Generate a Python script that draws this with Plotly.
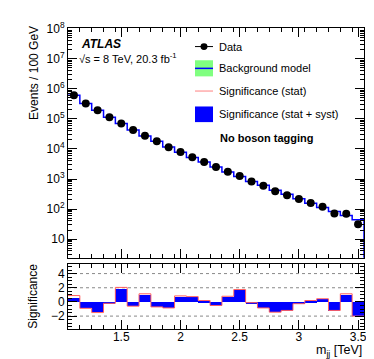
import plotly.graph_objects as go

# bin centres (TeV), 100 GeV bins
mjj = [1.1, 1.2, 1.3, 1.4, 1.5, 1.6, 1.7, 1.8, 1.9, 2.0,
       2.1, 2.2, 2.3, 2.4, 2.5, 2.6, 2.7, 2.8, 2.9, 3.0,
       3.1, 3.2, 3.3, 3.4, 3.5]
data = [620000, 330000, 194000, 115000, 71000, 43000, 27500, 18000, 11500, 7900,
        5300, 3700, 2500, 1750, 1270, 830, 600, 392, 290, 215,
        159, 118, 71, 70, 31]
bkg = [619500, 330500, 194600, 115100, 70500, 43100, 27330, 18100, 11590, 7830,
       5250, 3690, 2520, 1720, 1210, 833, 620, 420, 310, 219,
       157, 113, 82, 61, 44]
sig_syst = [0.6, -0.8, -1.4, -0.2, 1.9, -0.55, 1.05, -0.7, -0.8, 0.8,
            0.7, 0.2, -0.45, 0.8, 1.7, -0.1, -0.8, -1.4, -1.15, -0.25,
            0.2, 0.45, -1.15, 1.1, -1.95]
sig_stat = [0.9, -0.9, -1.5, -0.2, 2.05, -0.6, 1.15, -0.7, -0.85, 0.85,
            0.75, 0.2, -0.5, 0.8, 1.75, -0.1, -0.85, -1.45, -1.2, -0.25,
            0.2, 0.45, -1.2, 1.15, -2.0]

x_ticks = [1.5, 2, 2.5, 3, 3.5]
x_ticktext = ["1.5", "2", "2.5", "3", "3.5"]
y_ticks = [10, 1e2, 1e3, 1e4, 1e5, 1e6, 1e7, 1e8]
y_ticktext = ["10", "10<sup>2</sup>", "10<sup>3</sup>", "10<sup>4</sup>",
              "10<sup>5</sup>", "10<sup>6</sup>", "10<sup>7</sup>", "10<sup>8</sup>"]
y_minor = [k * 10 ** n for n in range(0, 8) for k in range(2, 10)]
sig_ticks = [-2, 0, 2, 4]

W, H = 374, 359
L, R, T, B = 60, 18, 13, 38
def px(x):
    return (x - L) / (W - L - R)
def py(y):
    return (H - B - y) / (H - T - B)

half = 0.05
edges = [c - half for c in mjj] + [mjj[-1] + half]

FONT = "Liberation Sans"
fig = go.Figure()

# background model step line
fig.add_trace(go.Scatter(x=edges + [edges[-1]], y=bkg + [bkg[-1], 0.1],
                         mode='lines', line=dict(color='blue', width=1.5, shape='hv'),
                         xaxis='x', yaxis='y', showlegend=False))
# data
fig.add_trace(go.Scatter(x=mjj, y=data, mode='markers',
                         marker=dict(color='black', size=8),
                         xaxis='x', yaxis='y', showlegend=False))

# significance (stat + syst)
fig.add_trace(go.Bar(x=mjj, y=sig_syst, width=0.1, marker=dict(color='blue', line=dict(width=0)),
                     xaxis='x2', yaxis='y2', showlegend=False))
# significance (stat)
fig.add_trace(go.Scatter(x=edges, y=sig_stat + [sig_stat[-1]], mode='lines',
                         line=dict(color='#ff6060', width=1, shape='hv'),
                         xaxis='x2', yaxis='y2', showlegend=False))

for v in [4, 2, -2]:
    fig.add_shape(type='line', xref='x2 domain', yref='y2', x0=0, x1=1, y0=v, y1=v,
                  line=dict(color='#888888', width=1, dash='dot'), layer='below')

ax = dict(showline=True, linecolor='black', linewidth=1, mirror='allticks',
          ticks='inside', tickcolor='black', showgrid=False, zeroline=False,
          tickfont=dict(family=FONT, size=12, color='black'))

main_bot = py(248)
rat_top = py(254)

fig.update_layout(
    width=W, height=H,
    margin=dict(l=L, r=R, t=T, b=B),
    paper_bgcolor='white', plot_bgcolor='white',
    bargap=0,
    xaxis=dict(**ax, domain=[0, 1], anchor='y', range=[1.05, 3.55], showticklabels=False,
               tickmode='array', tickvals=x_ticks, ticklen=9,
               minor=dict(ticks='inside', dtick=0.1, tick0=1.05, ticklen=4, tickcolor='black')),
    yaxis=dict(**ax, domain=[main_bot, 1], anchor='x', type='log', range=[0.38, 8.03],
               tickmode='array', tickvals=y_ticks, ticktext=y_ticktext, ticklen=9,
               minor=dict(ticks='inside', tickmode='array', tickvals=y_minor, ticklen=4, tickcolor='black')),
    xaxis2=dict(**ax, domain=[0, 1], anchor='y2', range=[1.05, 3.55],
                tickmode='array', tickvals=x_ticks, ticktext=x_ticktext, ticklen=9,
                ticklabelstandoff=-3,
                minor=dict(ticks='inside', dtick=0.1, tick0=1.05, ticklen=4, tickcolor='black')),
    yaxis2=dict(**ax, domain=[0, rat_top], anchor='x2', range=[-3.82, 5.42],
                tickmode='array', tickvals=sig_ticks, ticklen=9,
                minor=dict(ticks='inside', dtick=0.5, ticklen=4, tickcolor='black')),
)

def note(text, x, y, size=11, xanchor='left', angle=0):
    fig.add_annotation(text=text, x=px(x), y=py(y), xref='paper', yref='paper',
                       xanchor=xanchor, yanchor='middle', showarrow=False, textangle=angle,
                       font=dict(family=FONT, size=size, color='black'))

note("Events / 100 GeV", 26, 59, size=12, xanchor='center', angle=-90)
note("Significance", 25, 288, size=12, xanchor='center', angle=-90)
note("m<sub>jj</sub> [TeV]", 356, 344, size=12.5, xanchor='right')
note("<b><i>ATLAS</i></b>", 71, 29, size=12)
note("√s = 8 TeV, 20.3 fb<sup>-1</sup>", 69, 44, size=11)
note("<b>No boson tagging</b>", 210, 126, size=11)

# legend
lx0, lx1 = 187, 205
fig.add_shape(type='line', xref='paper', yref='paper', x0=px(lx0), x1=px(lx1), y0=py(32), y1=py(32),
              line=dict(color='black', width=1))
fig.add_shape(type='circle', xref='paper', yref='paper', x0=px(192.5), x1=px(199.5), y0=py(35.5), y1=py(28.5),
              fillcolor='black', line=dict(color='black', width=0))
note("Data", 209, 32)
fig.add_shape(type='rect', xref='paper', yref='paper', x0=px(lx0), x1=px(lx1), y0=py(62.5), y1=py(46),
              fillcolor='#80ff80', line=dict(width=0))
fig.add_shape(type='line', xref='paper', yref='paper', x0=px(lx0), x1=px(lx1), y0=py(54.3), y1=py(54.3),
              line=dict(color='blue', width=1.5))
note("Background model", 209, 54)
fig.add_shape(type='line', xref='paper', yref='paper', x0=px(lx0), x1=px(lx1), y0=py(77.5), y1=py(77.5),
              line=dict(color='#ff8080', width=1))
note("Significance (stat)", 209, 77)
fig.add_shape(type='rect', xref='paper', yref='paper', x0=px(lx0), x1=px(lx1), y0=py(109.3), y1=py(93.3),
              fillcolor='blue', line=dict(width=0))
note("Significance (stat + syst)", 209, 101)

fig.write_html("out.html")
